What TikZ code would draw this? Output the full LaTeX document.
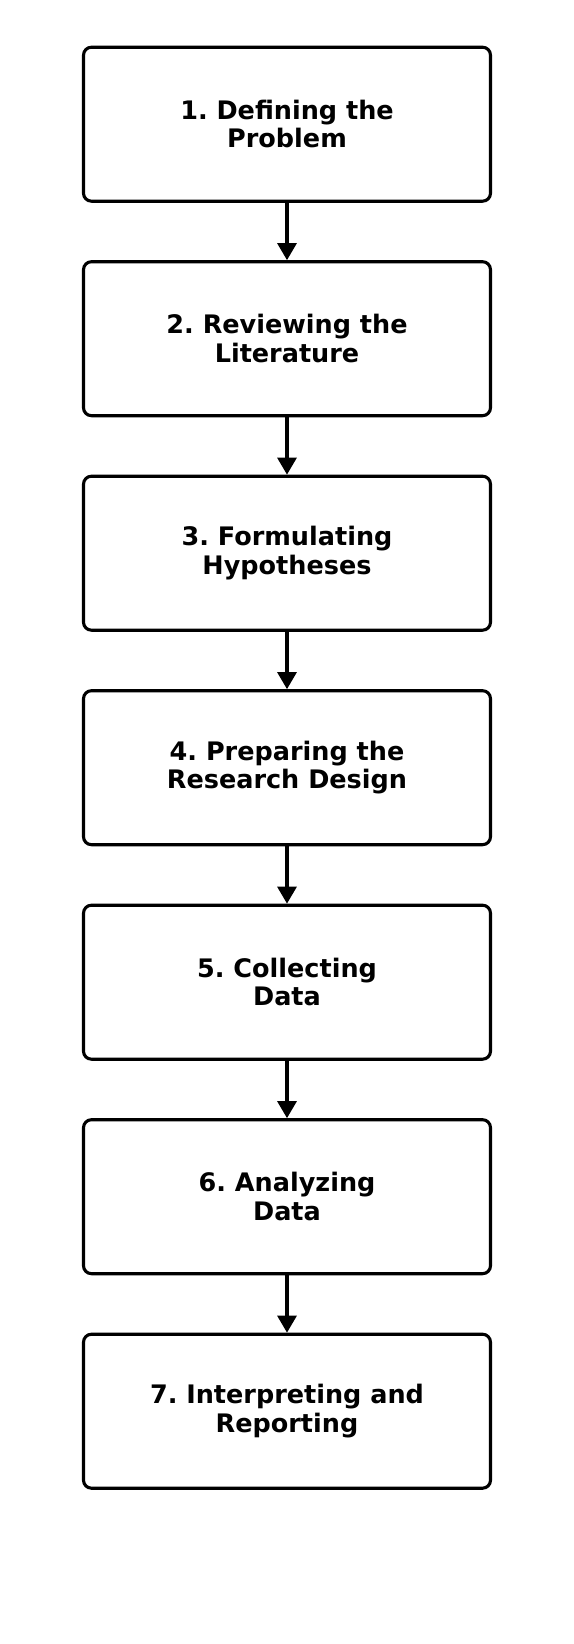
\documentclass[tikz,border=0pt]{standalone}
\usepackage{fontspec}
\setmainfont{DejaVu Sans}[BoldFont={DejaVu Sans Bold}]
\usetikzlibrary{arrows.meta}
\begin{document}
\frenchspacing
\begin{tikzpicture}[x=1pt,y=1pt,
  stepbox/.style={draw=black, line width=3.1pt, rounded corners=8pt, fill=white,
    minimum width=407pt, minimum height=154pt, align=center,
    font=\fontsize{25.5}{28.5}\selectfont\bfseries, inner sep=0pt},
  flow/.style={line width=3.1pt, -{Triangle[length=17pt,width=19pt]}}]
\useasboundingbox (0,0) rectangle (573,-1644);
\node[stepbox] (s1) at (287,-124.2) {1. Defining the\\Problem};
\node[stepbox] (s2) at (287,-338.7) {2. Reviewing the\\Literature};
\node[stepbox] (s3) at (287,-553.2) {3. Formulating\\Hypotheses};
\node[stepbox] (s4) at (287,-767.7) {4. Preparing the\\Research Design};
\node[stepbox] (s5) at (287,-982.2) {5. Collecting\\Data};
\node[stepbox] (s6) at (287,-1196.7) {6. Analyzing\\Data};
\node[stepbox] (s7) at (287,-1411.2) {7. Interpreting and\\Reporting};
\foreach \a/\b in {s1/s2,s2/s3,s3/s4,s4/s5,s5/s6,s6/s7}
  \draw[flow] (\a.south) -- (\b.north);
\end{tikzpicture}
\end{document}
